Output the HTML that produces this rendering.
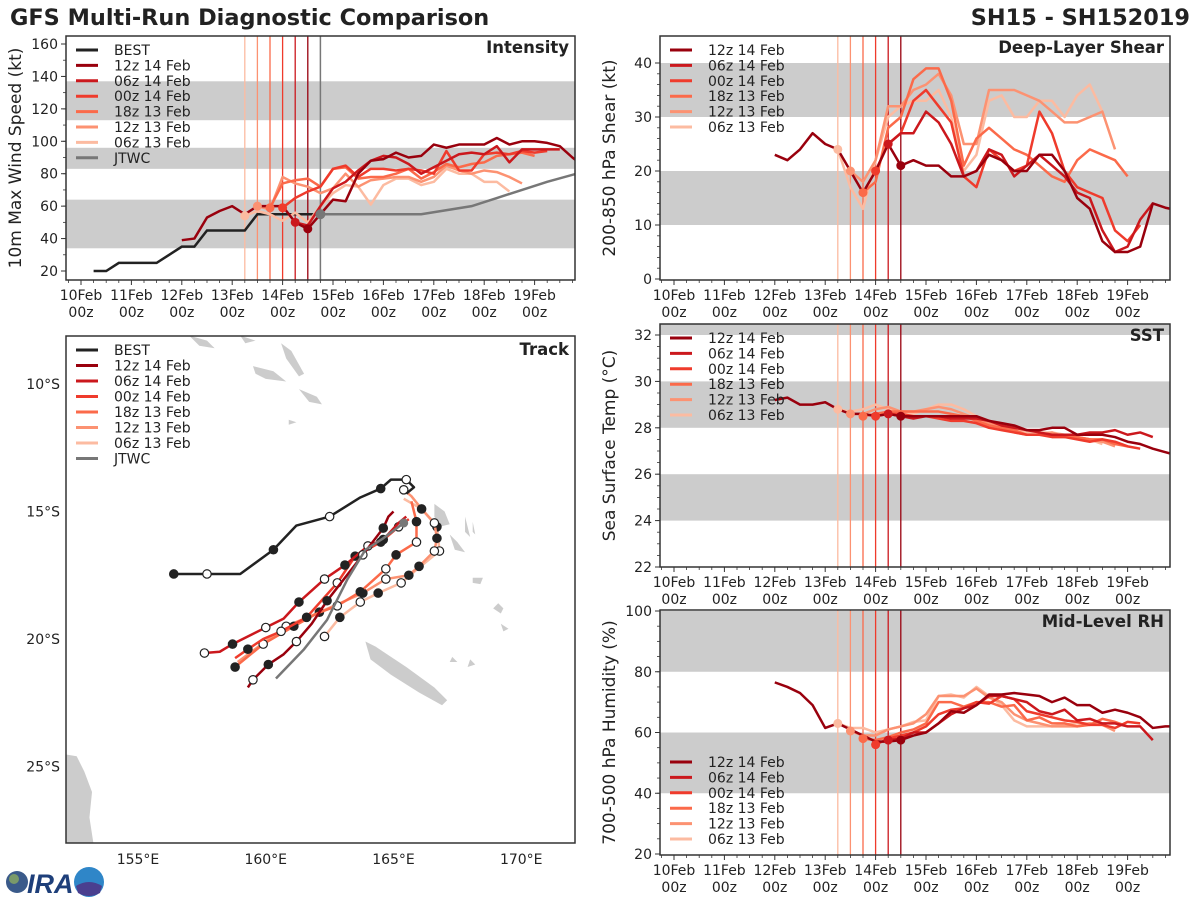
<!DOCTYPE html>
<html><head><meta charset="utf-8">
<style>
html,body{margin:0;padding:0;background:#fff;}
svg{display:block;font-family:"DejaVu Sans","Liberation Sans",sans-serif;}
</style></head>
<body>
<svg id="fig" xmlns="http://www.w3.org/2000/svg" width="1200" height="900" viewBox="0 0 1200 900">
<rect width="1200" height="900" fill="#fff"/>
<text x="10" y="25" font-size="22.4" font-weight="bold" fill="#222">GFS Multi-Run Diagnostic Comparison</text>
<text x="1190" y="25" font-size="22.4" font-weight="bold" fill="#222" text-anchor="end">SH15 - SH152019</text>
<g id="logo">
<circle cx="17" cy="882" r="11" fill="#3a5a8a"/>
<circle cx="14" cy="879" r="5" fill="#7a9a6a"/>
<text x="27" y="893" font-size="27" font-weight="bold" font-style="italic" fill="#1e3f7a" font-family="Liberation Sans, sans-serif">IRA</text>
<circle cx="89" cy="882" r="15" fill="#2f86c8"/>
<path d="M76 886 Q89 878 102 886 L100 893 Q89 899 78 893 Z" fill="#4a3f8f"/>
</g>
</svg>
<script>
// ---------- data ----------
const runNames = ['12z 14 Feb','06z 14 Feb','00z 14 Feb','18z 13 Feb','12z 13 Feb','06z 13 Feb'];
const runColors = ['#99000d','#cb181d','#ef3b2c','#fb6a4a','#fc9272','#fcbba1'];
const runInit = [14.5,14.25,14.0,13.75,13.5,13.25];
const runStart = [12.0,14.25,14.0,13.75,13.5,13.25];

const intensity12z14 = [39,40,53,57,60,55,60,60,60,50,46,55,64,63,80,88,89,93,90,91,98,96,98,98,98,102,98,100,100,99,97,90,84];
const intensity06z14 = [50,48,60,71,75,82,88,91,90,86,80,84,88,92,93,92,97,87,95,95,95,95];
const intensity00z14 = [59,65,69,72,83,85,78,83,83,82,83,82,80,94,82,82,92,93,92,94,93,94];
const intensity18z13 = [59,74,76,77,72,83,84,77,78,78,80,83,77,81,86,84,86,87,91,92,93,91];
const intensity12z13 = [60,58,78,74,72,68,71,80,72,76,77,78,78,75,78,85,82,80,82,81,78,74];
const intensity06z13 = [54,57,55,51,56,50,60,68,73,72,61,73,77,77,73,75,83,80,80,75,75,69];
const bestStart = 10.25;
const bestIntensity = [20,20,25,25,25,25,30,35,35,45,45,45,45,55,55,55,55,55,55];
const jtwcTimes = [14.75,15,16.75,17.75,18.25,18.75,19.25,19.83];
const jtwcIntensity = [55,55,55,60,65,70,75,80];

const shear12z14 = [23,22,24,27,25,24,20,16,20,25,21,22,21,21,19,19,20,23,22,20,20,23,23,20,15,13,7,5,5,6,14,13.2,12.7];
const shear06z14 = [25,27,27,31,29,25,19,20,24,23,19,21,23,21,19,16,15,9,5,6,11,14];
const shear00z14 = [20,25,27,33,35,32,29,19,17,24,22,20,21,31,27,20,17,16,15,9,7,10];
const shear18z13 = [16,18,28,30,37,39,39,33,21,26,28,26,24,23,21,19,18,22,24,23,22,19];
const shear12z13 = [20,18,22,32,32,35,36,38,34,25,25,35,35,35,34,33,31,29,29,30,31,24];
const shear06z13 = [24,17,13,22,30,32,33,33,35,30,20,23,33,34,30,30,33,33,30,34,36,31];

const sst12z14 = [29.2,29.3,29.0,29.0,29.1,28.8,28.6,28.6,28.5,28.6,28.5,28.5,28.5,28.5,28.5,28.5,28.5,28.3,28.2,28.1,27.9,27.9,28.0,28.0,27.7,27.7,27.7,27.6,27.4,27.3,27.1,26.95,26.8];
const sst06z14 = [28.6,28.5,28.4,28.5,28.5,28.4,28.4,28.4,28.3,28.1,28.0,27.9,27.8,27.7,27.7,27.7,27.8,27.8,27.9,27.7,27.8,27.6];
const sst00z14 = [28.5,28.6,28.6,28.5,28.5,28.4,28.3,28.3,28.2,28.0,27.9,27.8,27.7,27.7,27.6,27.6,27.5,27.4,27.5,27.4,27.2,27.1];
const sst18z13 = [28.5,28.6,28.7,28.7,28.7,28.7,28.7,28.6,28.5,28.3,28.1,28.0,27.9,27.7,27.7,27.7,27.7,27.6,27.5,27.5,27.3,27.2];
const sst12z13 = [28.6,28.6,28.8,28.9,28.7,28.7,28.8,28.9,28.8,28.6,28.4,28.2,28.0,27.8,27.7,27.7,27.8,27.6,27.6,27.5,27.4,27.2];
const sst06z13 = [28.8,28.7,28.8,29.0,28.8,28.7,28.6,28.8,29.0,29.0,28.8,28.5,28.3,28.1,27.9,27.8,27.8,27.8,27.7,27.6,27.5,27.3];

const rh12z14 = [76.5,75,73,69,61.5,63,61,59,57,57,57.5,59,60,63,67,66.5,69,72.5,72.5,73,72.5,72,70,71.5,69,69,66.5,67.5,66.5,65,61.5,62,62];
const rh06z14 = [57.5,58,60,60,63,66,68,69,72,72,71,70,67,66,67.5,64,64.5,63,63,62,62,57.5];
const rh00z14 = [56,58,59,60,62,66,67.5,68,70,69.5,72,71,67,66,65,64,63.5,62.5,62.5,61.5,63.5,63];
const rh18z13 = [58,57.5,58.5,60,61,63,70,70,68.5,70,70,68.5,69,64,65,63,63,62,62.5,64.5,63.5,62];
const rh12z13 = [60.5,59,59,61,62,63,66,72,72,72,74.5,71.5,70,66,64,63,62,62,62,63,62.5,60.5];
const rh06z13 = [63,61.5,61.5,60,61,62,63.5,64,72,72.5,71.5,75,72,69,64,62,62,62,62.5,63,63,62.5];

const dayTicks = ['10Feb','11Feb','12Feb','13Feb','14Feb','15Feb','16Feb','17Feb','18Feb','19Feb'];
const intensityTicks = [20,40,60,80,100,120,140,160];
const shearTicks = [0,10,20,30,40];
const sstTicks = [22,24,26,28,30,32];
const rhTicks = [20,40,60,80,100];
const lonTicks = [155,160,165,170];
const latTicks = [10,15,20,25];

const bestLon = [156.4,157.7,159.0,160.3,161.2,162.5,163.7,164.5,164.9,165.5,165.8,165.5];
const bestLat = [-17.45,-17.45,-17.45,-16.5,-15.55,-15.2,-14.45,-14.1,-13.75,-13.75,-14.05,-14.3];
const bestMarks = ['f','o','','f','','o','','f','','o','',''];
const track12z14Lon = [159.3,159.5,160.1,160.7,161.2,161.8,162.4,163.1,163.8,164.6,164.8,165.0];
const track12z14Lat = [-21.9,-21.6,-21.0,-20.6,-20.1,-19.4,-18.5,-17.6,-16.7,-15.65,-15.2,-15.0];
const track12z14Marks = ['','o','f','','o','','f','','o','f','',''];
const track06z14Lon = [157.6,158.2,158.7,160.0,160.7,161.3,162.3,163.1,164.0,164.6,165.2,165.5];
const track06z14Lat = [-20.55,-20.5,-20.2,-19.55,-19.2,-18.55,-17.65,-17.1,-16.35,-16.1,-15.45,-15.2];
const track06z14Marks = ['o','','f','o','','f','o','f','o','f','',''];
const track00z14Lon = [158.8,159.3,159.9,160.6,161.6,162.8,163.5,164.5,165.2,165.6];
const track00z14Lat = [-20.75,-20.4,-20.0,-19.7,-19.15,-17.8,-16.75,-16.2,-15.6,-15.3];
const track00z14Marks = ['','f','','o','f','o','f','f','o',''];
const track18z13Lon = [158.8,159.9,161.1,162.0,162.8,163.7,164.7,165.1,165.9,165.9,165.7];
const track18z13Lat = [-21.1,-20.2,-19.5,-19.0,-18.7,-18.15,-17.25,-16.7,-16.2,-15.4,-14.6];
const track18z13Marks = ['f','o','f','','o','f','o','f','o','f',''];
const track12z13Lon = [158.9,160.8,162.1,163.8,164.7,165.6,166.0,166.6,166.7,166.6,166.1,165.7,165.4];
const track12z13Lat = [-20.9,-19.5,-18.95,-18.2,-17.65,-17.5,-17.15,-16.55,-16.05,-15.45,-14.9,-14.4,-14.15];
const track12z13Marks = ['','o','f','f','o','f','f','o','f','o','f','','o'];
const track06z13Lon = [162.3,162.9,163.7,164.4,165.3,166.0,166.8,166.7,166.1,165.4];
const track06z13Lat = [-19.9,-19.15,-18.55,-18.2,-17.8,-17.2,-16.55,-15.6,-14.9,-14.5];
const track06z13Marks = ['o','f','o','f','o','','o','f','',''];
const jtwcLon = [160.4,161.5,162.4,163.2,163.9,164.6,165.4];
const jtwcLat = [-21.55,-20.4,-19.25,-17.65,-16.5,-16.05,-15.45];

// ---------- helpers ----------
const NS='http://www.w3.org/2000/svg';
const svg=document.getElementById('fig');
function mk(tag,attrs,parent){const e=document.createElementNS(NS,tag);for(const k in attrs)e.setAttribute(k,attrs[k]);(parent||svg).appendChild(e);return e;}
function txt(str,attrs,parent){const e=mk('text',attrs,parent);e.textContent=str;return e;}
let clipId=0;
const FS=14;

function timePanel(p){
  const X=t=>p.tx0+(t-10)*50.4;
  const Y=v=>p.yb-(v-p.vb)*p.k;
  const g=mk('g',{});
  
  
  const cid='c'+(clipId++);
  const cp=mk('clipPath',{id:cid},g);mk('rect',{x:p.x0,y:p.y0,width:p.x1-p.x0,height:p.y1-p.y0},cp);
  const inner=mk('g',{'clip-path':'url(#'+cid+')'},g);
  p.bands.forEach(b=>{
    const r=mk('rect',{x:p.x0,y:Y(b[1]),width:p.x1-p.x0,height:Y(b[0])-Y(b[1]),fill:'#cccccc'},inner);
    
    
  });
  for(let i=runInit.length-1;i>=0;i--){
    const l=mk('line',{x1:X(runInit[i]),x2:X(runInit[i]),y1:p.y0,y2:p.y1,stroke:runColors[i],'stroke-width':1.3},inner);
    
    
  }
  if(p.jtwcLine){
    const l=mk('line',{x1:X(14.75),x2:X(14.75),y1:p.y0,y2:p.y1,stroke:'#777','stroke-width':1.5},inner);
    
    
  }
  if(p.best){
    const pts=p.best.map((v,i)=>X(bestStart+i*0.25)+','+Y(v)).join(' ');
    const l=mk('polyline',{points:pts,fill:'none',stroke:'#222','stroke-width':2.5},inner);
    
    
  }
  if(p.jtwc){
    const pts=jtwcTimes.map((t,i)=>X(t)+','+Y(jtwcIntensity[i])).join(' ');
    const l=mk('polyline',{points:pts,fill:'none',stroke:'#777','stroke-width':2.5},inner);
    
    
  }
  for(let i=p.series.length-1;i>=0;i--){
    const s=p.series[i];
    const pts=s.map((v,j)=>X(runStart[i]+j*0.25)+','+Y(v)).join(' ');
    const l=mk('polyline',{points:pts,fill:'none',stroke:runColors[i],'stroke-width':2.5,'stroke-linejoin':'round'},inner);
    
    
  }
  for(let i=p.series.length-1;i>=0;i--){
    const j=Math.round((runInit[i]-runStart[i])/0.25);
    const c=mk('circle',{cx:X(runInit[i]),cy:Y(p.series[i][j]),r:4.5,fill:runColors[i]},inner);
    
    
  }
  if(p.jtwc){
    const c=mk('circle',{cx:X(14.75),cy:Y(55),r:5,fill:'#777'},inner);
    
    
  }
  const fr=mk('rect',{x:p.x0,y:p.y0,width:p.x1-p.x0,height:p.y1-p.y0,fill:'none',stroke:'#333','stroke-width':1.5},g);
  
  
  dayTicks.forEach((d,i)=>{
    const x=X(10+i);
    mk('line',{x1:x,x2:x,y1:p.y1,y2:p.y1+5,stroke:'#333','stroke-width':1},g);
    const t1=txt(d,{x:x,y:p.y1+20,'font-size':FS,'text-anchor':'middle',fill:'#222'},g);
    
    
    const t2=txt('00z',{x:x,y:p.y1+37,'font-size':FS,'text-anchor':'middle',fill:'#222'},g);
    
    
  });
  for(let t=9.75;t<=19.8;t+=0.25){const x=X(t);if(x>p.x0&&x<p.x1&&Math.abs(t-Math.round(t))>0.01)mk('line',{x1:x,x2:x,y1:p.y1,y2:p.y1+3,stroke:'#333','stroke-width':0.8},g);}
  p.ticks.forEach(v=>{
    const y=Y(v);
    mk('line',{x1:p.x0-5,x2:p.x0,y1:y,y2:y,stroke:'#333','stroke-width':1},g);
    const t=txt(String(v),{x:p.x0-8,y:y+5,'font-size':FS,'text-anchor':'end',fill:'#222'},g);
    
    
  });
  for(let v=p.ticks[0];v<=p.ticks[p.ticks.length-1];v+=p.minor){const y=Y(v);mk('line',{x1:p.x0-3,x2:p.x0,y1:y,y2:y,stroke:'#333','stroke-width':0.8},g);}
  const cy=(p.y0+p.y1)/2;
  const yl=txt(p.ylabel,{x:0,y:0,'font-size':17,'text-anchor':'middle',fill:'#222',transform:'translate('+(p.x0-45)+','+cy+') rotate(-90)'},g);
  
  
  const tt=txt(p.title,{x:p.x1-6,y:p.y0+17,'font-size':16.5,'font-weight':'bold','text-anchor':'end',fill:'#222'},g);
  
  
  const lg=mk('g',{},g);
  
  
  p.legend.forEach((e,i)=>{
    const y=p.ly+i*15.4;
    mk('line',{x1:p.x0+10,x2:p.x0+32,y1:y,y2:y,stroke:e[1],'stroke-width':3},lg);
    const t=txt(e[0],{x:p.x0+48,y:y+5,'font-size':FS,fill:'#222'},lg);
    
    
  });
}
const runLegend=runNames.map((n,i)=>[n,runColors[i]]);

timePanel({name:'intensity-panel',x0:66,x1:575,y0:36,y1:280,tx0:81,yb:271,vb:20,k:227/140,
  bands:[[34,64],[83,96],[113,137]],ticks:intensityTicks,minor:10,ylabel:'10m Max Wind Speed (kt)',title:'Intensity',
  series:[intensity12z14,intensity06z14,intensity00z14,intensity18z13,intensity12z13,intensity06z13],
  best:bestIntensity,jtwc:true,jtwcLine:true,ly:50,
  legend:[['BEST','#222']].concat(runLegend,[['JTWC','#777']])});
timePanel({name:'shear-panel',x0:660,x1:1170,y0:36,y1:280,tx0:674,yb:279,vb:0,k:5.4,
  bands:[[10,20],[30,40]],ticks:shearTicks,minor:2,ylabel:'200-850 hPa Shear (kt)',title:'Deep-Layer Shear',
  series:[shear12z14,shear06z14,shear00z14,shear18z13,shear12z13,shear06z13],ly:50,legend:runLegend});
timePanel({name:'sst-panel',x0:660,x1:1170,y0:324,y1:567,tx0:674,yb:567,vb:22,k:23.2,
  bands:[[24,26],[28,30],[32,34]],ticks:sstTicks,minor:0.5,ylabel:'Sea Surface Temp (°C)',title:'SST',
  series:[sst12z14,sst06z14,sst00z14,sst18z13,sst12z13,sst06z13],ly:338,legend:runLegend});
timePanel({name:'rh-panel',x0:660,x1:1170,y0:610,y1:855,tx0:674,yb:854,vb:20,k:3.0375,
  bands:[[40,60],[80,100]],ticks:rhTicks,minor:5,ylabel:'700-500 hPa Humidity (%)',title:'Mid-Level RH',
  series:[rh12z14,rh06z14,rh00z14,rh18z13,rh12z13,rh06z13],ly:762,legend:runLegend});

// ---------- track map ----------
(function(){
  const x0=66,x1=575,y0=336,y1=843;
  const LX=lon=>138+(lon-155)*25.55;
  const LY=lat=>384+(-lat-10)*25.5;
  const g=mk('g',{});
  
  
  const cp=mk('clipPath',{id:'trk'},g);mk('rect',{x:x0,y:y0,width:x1-x0,height:y1-y0},cp);
  const inner=mk('g',{'clip-path':'url(#trk)'},g);
  const land=[
    [[152,-24.5],[152.6,-24.6],[152.9,-25.2],[153.2,-26],[153.1,-27],[153.3,-28.3],[152,-28.3]],
    [[163.9,-20.1],[164.3,-20.3],[165.5,-21.1],[166.6,-21.9],[167.1,-22.4],[166.9,-22.6],[166.0,-22.1],[164.9,-21.4],[164.1,-20.8]],
    [[166.6,-14.7],[167.0,-15.0],[167.2,-15.5],[166.8,-15.6],[166.6,-15.2]],
    [[167.2,-15.9],[167.5,-16.2],[167.8,-16.6],[167.4,-16.5]],
    [[168.1,-17.6],[168.5,-17.6],[168.4,-17.85],[168.1,-17.8]],
    [[169.1,-18.6],[169.3,-18.8],[169.2,-19.0],[168.9,-18.8]],
    [[169.2,-19.4],[169.5,-19.6],[169.3,-19.7]],
    [[167.8,-15.2],[167.9,-15.6],[168.0,-16.0],[167.8,-15.8]],
    [[168.1,-15.4],[168.2,-15.9],[168.1,-15.8]],
    [[159.5,-9.3],[160.3,-9.5],[160.8,-9.9],[160.0,-9.8],[159.6,-9.6]],
    [[160.6,-8.4],[161.0,-8.7],[161.5,-9.6],[161.3,-9.7],[160.8,-9.0]],
    [[161.3,-10.2],[162.0,-10.5],[162.2,-10.8],[161.7,-10.7]],
    [[157.0,-8.1],[157.7,-8.3],[158.0,-8.6],[157.4,-8.5]],
    [[159.0,-8.1],[159.6,-8.3],[159.2,-8.4]],
    [[160.9,-11.4],[161.2,-11.5],[160.9,-11.6]],
    [[168.0,-20.8],[168.2,-21.0],[167.9,-21.1]],
    [[167.3,-20.7],[167.5,-20.9],[167.2,-20.9]]
  ];
  land.forEach(poly=>{
    const p=mk('polygon',{points:poly.map(q=>LX(q[0])+','+LY(q[1])).join(' '),fill:'#cccccc'},inner);
    
    
  });
  function track(lon,lat,color,marks,name,w){
    const l=mk('polyline',{points:lon.map((v,i)=>LX(v)+','+LY(lat[i])).join(' '),fill:'none',stroke:color,'stroke-width':w||2.5,'stroke-linejoin':'round'},inner);
    
    
    if(!marks)return;
    marks.forEach((m,i)=>{
      if(!m)return;
      const c=mk('circle',{cx:LX(lon[i]),cy:LY(lat[i]),r:4.2,fill:m==='f'?'#222':'#fff',stroke:'#222','stroke-width':1.2},inner);
      
      
    });
  }
  track(track06z13Lon,track06z13Lat,runColors[5],track06z13Marks,'track-06z-13-feb');
  track(track12z13Lon,track12z13Lat,runColors[4],track12z13Marks,'track-12z-13-feb');
  track(track18z13Lon,track18z13Lat,runColors[3],track18z13Marks,'track-18z-13-feb');
  track(track00z14Lon,track00z14Lat,runColors[2],track00z14Marks,'track-00z-14-feb');
  track(track06z14Lon,track06z14Lat,runColors[1],track06z14Marks,'track-06z-14-feb');
  track(track12z14Lon,track12z14Lat,runColors[0],track12z14Marks,'track-12z-14-feb');
  track(jtwcLon,jtwcLat,'#777',null,'track-jtwc');
  const jm=mk('circle',{cx:LX(jtwcLon[6]),cy:LY(jtwcLat[6]),r:4.5,fill:'#777'},inner);
  
  
  track(bestLon,bestLat,'#222',bestMarks,'track-best');
  const fr=mk('rect',{x:x0,y:y0,width:x1-x0,height:y1-y0,fill:'none',stroke:'#333','stroke-width':1.5},g);
  
  
  lonTicks.forEach(v=>{
    const t=txt(v+'°E',{x:LX(v),y:y1+21,'font-size':FS,'text-anchor':'middle',fill:'#222'},g);
    
    
  });
  latTicks.forEach(v=>{
    const t=txt(v+'°S',{x:x0-6,y:LY(-v)+5,'font-size':FS,'text-anchor':'end',fill:'#222'},g);
    
    
  });
  const tt=txt('Track',{x:x1-6,y:y0+19,'font-size':16.5,'font-weight':'bold','text-anchor':'end',fill:'#222'},g);
  
  
  const lg=mk('g',{},g);
  
  
  const entries=[['BEST','#222']].concat(runLegend,[['JTWC','#777']]);
  entries.forEach((e,i)=>{
    const y=350+i*15.5;
    mk('line',{x1:76,x2:98,y1:y,y2:y,stroke:e[1],'stroke-width':3},lg);
    const t=txt(e[0],{x:114,y:y+5,'font-size':FS,fill:'#222'},lg);
    
    
  });
})();
</script>
</body></html>
